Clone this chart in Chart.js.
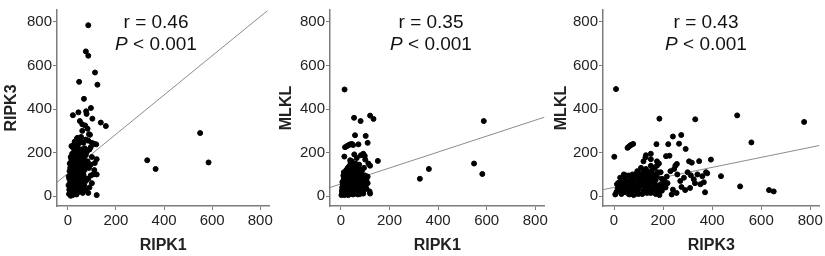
<!DOCTYPE html>
<html>
<head>
<meta charset="utf-8">
<script src="https://cdn.jsdelivr.net/npm/chart.js@4"></script>
<style>
    body { margin: 0; background: #fff; }
    .row { display: flex; width: 825px; height: 256px; }
    .panel { position: relative; width: 275px; height: 256px; }
</style>
</head>
<body>
<div class="row">
    <div class="panel"><canvas id="chart1"></canvas></div>
    <div class="panel"><canvas id="chart2"></canvas></div>
    <div class="panel"><canvas id="chart3"></canvas></div>
</div>
<script>
// tick labels shared by every panel
const tickValues = [0, 200, 400, 600, 800];

// panel 1: RIPK1 (x) vs RIPK3 (y)
const ripk1Ripk3 = [
    [85,785],[75,665],[85,645],[113,568],[47,525],[123,512],[67,447],[21,372],[44,385],[76,390],
    [78,378],[96,405],[102,356],[137,338],[158,322],[50,345],[60,330],[72,325],[82,310],[60,300],
    [88,285],[92,282],[40,268],[45,262],[55,272],[75,260],[85,255],[100,245],[110,240],[118,238],
    [65,245],[330,165],[365,125],[550,290],[585,155],
    [120,170],[112,152],[95,145],[88,130],[110,120],[120,100],[95,95],[85,80],[100,60],[90,40],
    [85,15],[120,5],[105,100],[75,190],[80,205],[90,215],[95,225],[70,220],[100,180],[82,160],
    [78,140],[70,120],[65,100],[75,70],[68,50],[72,30],
    [5,10],[8,25],[10,40],[12,55],[15,70],[18,85],[20,100],[22,115],[25,130],[28,145],
    [30,160],[32,175],[35,190],[38,205],[40,220],[15,230],[20,225],[25,235],[30,228],[35,215],
    [42,200],[45,180],[48,165],[50,150],[52,135],[55,120],[58,105],[60,90],[45,75],[40,60],
    [35,45],[30,30],[25,15],[20,5],[12,2],[8,60],[6,80],[10,95],[14,110],[16,125],
    [18,140],[12,155],[15,170],[20,185],[24,200],[28,210],[32,190],[36,170],[40,155],[44,140],
    [48,125],[52,110],[38,95],[34,80],[28,65],[22,50],[18,35],[14,20],[26,85],[30,100],
    [34,115],[38,130],[42,120],[46,100],[50,85],[54,70],[58,55],[62,40],[48,30],[42,18],
    [36,8],[30,60],[24,75],[20,160],[26,170],[32,150],[10,130],[7,115],[4,90],[3,50],
    [6,30],[16,50],[22,95],[36,245],[42,235],[50,210],[55,195],[60,175],[65,160],[62,140],
    [58,215],[64,200],[68,180],[55,250],[28,250],[18,195],[12,180],[8,150],[46,55],[52,45],
    [56,25],[62,15],[66,65],[70,85],[40,40],[32,20],[24,35],[16,10],[44,255],[38,265]
];

// panel 2: RIPK1 (x) vs MLKL (y)
const ripk1Mlkl = [
    [15,490],[54,360],[81,345],[120,370],[134,355],[58,280],[102,277],[110,245],[17,225],[25,230],
    [32,235],[38,238],[45,240],[50,235],[72,238],[14,182],[55,192],[65,175],[82,188],[98,185],
    [100,168],[92,195],[38,165],[40,155],[152,162],[113,150],[120,140],[95,130],[88,122],[325,80],
    [362,125],[548,150],[582,102],[588,345],[120,12],[118,22],[105,35],[110,60],[100,95],[85,110],
    [75,145],[60,150],[48,140],[30,120],[20,100],[10,95],
    [2,5],[5,15],[8,30],[10,45],[12,60],[15,20],[18,35],[20,50],[22,65],[25,80],
    [28,10],[30,25],[32,40],[35,55],[38,70],[40,85],[42,100],[45,15],[48,30],[50,45],
    [52,60],[55,75],[58,90],[60,105],[62,20],[65,35],[68,50],[70,65],[72,80],[75,95],
    [78,10],[80,25],[82,40],[85,55],[88,70],[90,85],[5,40],[8,55],[10,70],[12,85],
    [15,5],[18,50],[20,75],[22,30],[25,45],[28,60],[30,75],[32,90],[35,105],[38,20],
    [40,35],[42,50],[45,65],[48,80],[50,95],[52,110],[55,25],[58,40],[60,55],[62,70],
    [65,85],[68,100],[70,115],[72,30],[75,45],[78,60],[80,75],[15,60],[25,20],[35,30],
    [45,40],[55,50],[65,60],[75,70],[85,20],[95,30],[95,60],[100,45],[4,25],[6,65],
    [20,10],[30,5],[40,10],[50,8],[60,12],[70,8],[12,110],[22,120],[32,125],[42,115],
    [52,128],[62,118],[72,125],[45,160],[35,140],[28,130],[55,135],[65,130],[80,100],[88,40],
    [92,12],[105,75],[110,90]
];

// panel 3: RIPK3 (x) vs MLKL (y)
const ripk3Mlkl = [
    [8,492],[185,356],[331,353],[502,371],[775,341],[560,247],[1,181],[55,222],[60,227],[65,232],
    [70,236],[78,240],[173,239],[221,239],[240,274],[274,281],[265,241],[292,217],[130,188],[150,195],
    [212,184],[226,186],[175,160],[183,150],[250,140],[256,148],[306,160],[317,154],[347,161],[395,168],
    [436,92],[514,45],[632,28],[651,22],[380,105],[375,110],[366,64],[371,18],[360,92],[340,100],
    [325,78],[313,96],[330,60],[352,55],[300,110],[285,85],[270,70],[258,100],[245,125],[230,115],
    [218,60],[205,72],[195,45],[240,30],[255,15],[235,8],[275,42],[290,28],[310,38],
    [5,8],[10,20],[15,35],[20,50],[25,65],[30,10],[35,25],[40,40],[45,55],[50,70],
    [55,15],[60,30],[65,45],[70,60],[75,75],[80,5],[85,20],[90,35],[95,50],[100,65],
    [105,80],[110,95],[115,10],[120,25],[125,40],[130,55],[135,70],[140,85],[145,100],[150,15],
    [155,30],[160,45],[165,60],[170,75],[175,90],[180,20],[185,35],[190,55],[195,80],[12,55],
    [18,62],[22,30],[28,40],[32,48],[38,18],[42,28],[48,38],[52,45],[58,52],[62,8],
    [68,22],[72,35],[78,48],[82,58],[88,68],[92,12],[98,28],[102,42],[108,52],[112,62],
    [118,72],[122,85],[128,18],[132,32],[138,45],[142,58],[148,68],[152,78],[158,88],[162,22],
    [168,38],[172,50],[178,110],[45,80],[60,95],[75,100],[90,90],[100,105],[120,115],[130,125],
    [140,110],[155,120],[165,130],[110,130],[95,115],[85,100],[70,85],[50,95],[35,60],[25,85],
    [40,100],[55,60],[65,70],[80,40],[100,10],[115,48],[125,100],[135,15],[145,40],[160,100],
    [170,10],[185,5],[195,25],[200,60],[210,40],[215,90],[190,110],[175,140],[150,140],[120,160],
    [128,178],[150,170]
];

// fitted line ends
const fit1 = [[-45, 64], [830, 852]];
const fit2 = [[-45, 40], [838, 363]];
const fit3 = [[-45, 30], [838, 233]];

const rLabels = ['r = 0.46', 'r = 0.35', 'r = 0.43'];
const pLabel = '< 0.001';

const FONT = "'Liberation Sans', Arial, sans-serif";

// r and P text drawn above the points
const statsText = {
    id: 'statsText',
    afterDraw(chart, args, opts) {
        const ctx = chart.ctx;
        const cx = 156;
        const size = '19px ';
        ctx.save();
        ctx.fillStyle = '#111';
        ctx.textBaseline = 'middle';
        ctx.font = size + FONT;
        ctx.textAlign = 'center';
        ctx.fillText(opts.r, cx, 23);

        ctx.textAlign = 'left';
        ctx.font = 'italic ' + size + FONT;
        const wP = ctx.measureText('P ').width;
        ctx.font = size + FONT;
        const wRest = ctx.measureText(pLabel).width;
        let x = cx - (wP + wRest) / 2;
        ctx.font = 'italic ' + size + FONT;
        ctx.fillText('P', x, 45);
        ctx.font = size + FONT;
        ctx.fillText(pLabel, x + wP, 45);
        ctx.restore();
    }
};

function toPoints(pairs) {
    return pairs.map(p => ({ x: p[0], y: p[1] }));
}

function makeChart(id, points, fit, xTitle, yTitle, rText, yWidth) {
    const ctx = document.getElementById(id).getContext('2d');
    const axisGray = '#7d7d7d';
    const tickSetup = scale => {
        scale.ticks = tickValues.map(v => ({ value: v }));
    };
    return new Chart(ctx, {
        type: 'scatter',
        data: {
            datasets: [{
                data: toPoints(points),
                backgroundColor: '#000',
                borderColor: '#000',
                pointRadius: 2.5,
                pointHoverRadius: 2.5
            }, {
                data: toPoints(fit),
                showLine: true,
                borderColor: '#8c8c8c',
                borderWidth: 1,
                pointRadius: 0,
                fill: false
            }]
        },
        options: {
            responsive: false,
            animation: false,
            layout: { padding: { top: 5, right: 5, left: 0, bottom: 0 } },
            plugins: {
                legend: { display: false },
                tooltip: { enabled: false },
                statsText: { r: rText }
            },
            scales: {
                x: {
                    type: 'linear',
                    min: -45,
                    max: 838,
                    afterBuildTicks: tickSetup,
                    afterFit: scale => { scale.height = 50; },
                    border: { color: axisGray, width: 1.5 },
                    grid: { drawOnChartArea: false, tickLength: 4, color: axisGray },
                    ticks: { color: '#222', font: { family: FONT, size: 15 }, padding: 2, maxRotation: 0 },
                    title: {
                        display: true, text: xTitle, color: '#222',
                        font: { family: FONT, size: 16, weight: 'bold' },
                        padding: { top: 0, bottom: 1 }
                    }
                },
                y: {
                    type: 'linear',
                    min: -45,
                    max: 855,
                    afterBuildTicks: tickSetup,
                    afterFit: scale => { scale.width = yWidth; },
                    border: { color: axisGray, width: 1.5 },
                    grid: { drawOnChartArea: false, tickLength: 4, color: axisGray },
                    ticks: { color: '#222', font: { family: FONT, size: 15 }, padding: 1 },
                    title: {
                        display: true, text: yTitle, color: '#222',
                        font: { family: FONT, size: 16, weight: 'bold' },
                        padding: { top: 2, bottom: 0 }
                    }
                }
            }
        },
        plugins: [statsText]
    });
}

['chart1', 'chart2', 'chart3'].forEach(id => {
    const c = document.getElementById(id);
    c.width = 275;
    c.height = 256;
});

makeChart('chart1', ripk1Ripk3, fit1, 'RIPK1', 'RIPK3', rLabels[0], 57);
makeChart('chart2', ripk1Mlkl, fit2, 'RIPK1', 'MLKL', rLabels[1], 55);
makeChart('chart3', ripk3Mlkl, fit3, 'RIPK3', 'MLKL', rLabels[2], 53);
</script>
</body>
</html>
